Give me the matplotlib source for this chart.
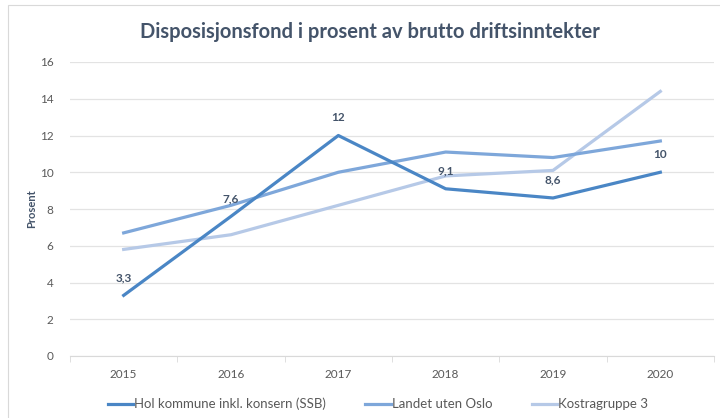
import matplotlib.pyplot as plt
from matplotlib.patches import Rectangle

years = [2015, 2016, 2017, 2018, 2019, 2020]
hol = [3.3, 7.6, 12.0, 9.1, 8.6, 10.0]
landet = [6.7, 8.2, 10.0, 11.1, 10.8, 11.7]
kostra = [5.8, 6.6, 8.2, 9.8, 10.1, 14.4]
hol_labels = ['3,3', '7,6', '12', '9,1', '8,6', '10']

plt.rcParams['font.family'] = ['Lato', 'DejaVu Sans']

fig = plt.figure(figsize=(7.2, 4.18), dpi=100)
ax = fig.add_axes([70/720, 1 - 356/418, 644/720, 294/418])

x = list(range(len(years)))
ax.plot(x, hol, color='#4A86C5', lw=2.3, label='Hol kommune inkl. konsern (SSB)', zorder=3)
ax.plot(x, landet, color='#7EA7DA', lw=2.3, label='Landet uten Oslo', zorder=2)
ax.plot(x, kostra, color='#B6C9E7', lw=2.3, label='Kostragruppe 3', zorder=1)

for xi, v, t in zip(x, hol, hol_labels):
    ax.annotate(t, (xi, v), xytext=(0, 9), textcoords='offset points',
                ha='center', va='bottom', fontsize=8.5, fontweight='bold', color='#44546A')

ax.set_xlim(-0.5, len(years) - 0.5)
ax.set_ylim(0, 16)
ax.set_yticks(range(0, 17, 2))
ax.set_xticks(x)
ax.set_xticklabels([str(y) for y in years])
ax.set_xticks([i - 0.5 for i in range(len(years) + 1)], minor=True)
ax.tick_params(axis='x', which='major', length=0, pad=9, labelsize=8.5, colors='#595959')
ax.tick_params(axis='x', which='minor', length=4, color='#D9D9D9')
ax.tick_params(axis='y', length=0, pad=12, labelsize=8.5, colors='#595959')
ax.grid(axis='y', color='#E3E3E3', lw=0.9)
ax.set_axisbelow(True)
for s in ['top', 'right', 'left']:
    ax.spines[s].set_visible(False)
ax.spines['bottom'].set_color('#D9D9D9')
ax.set_ylabel('Prosent', fontsize=8, fontweight='bold', color='#44546A', labelpad=2)

fig.text(0.514, 1 - 32/418, 'Disposisjonsfond i prosent av brutto driftsinntekter',
         ha='center', va='center', fontsize=14.5, fontweight='bold', color='#44546A')

fig.legend(loc='center', bbox_to_anchor=(0.525, 1 - 404/418), ncol=3, frameon=False,
           fontsize=9.5, handlelength=1.9, handletextpad=0.1, columnspacing=3.0,
           labelcolor='#595959')

fig.patches.append(Rectangle((8/720, -0.01), 1, 1 - 5/418 + 0.01, transform=fig.transFigure,
                             fill=False, edgecolor='#D9D9D9', lw=0.8))

fig.savefig('out.png', dpi=100)
